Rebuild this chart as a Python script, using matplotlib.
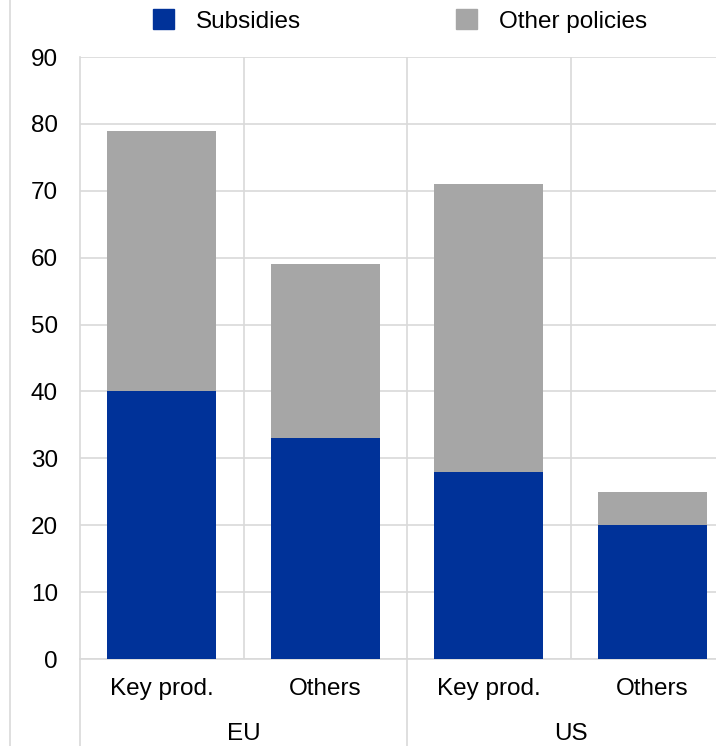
import matplotlib
matplotlib.use("Agg")
import matplotlib.pyplot as plt
from matplotlib.lines import Line2D
from matplotlib.patches import Patch
import numpy as np

plt.rcParams["font.family"] = ["Liberation Sans", "DejaVu Sans"]

categorias = ["Key prod.", "Others", "Key prod.", "Others"]
grupos = ["EU", "US"]
subsidios = [40, 33, 28, 20]
outras = [39, 26, 43, 5]

azul = "#003299"
cinza = "#a6a6a6"
grade = "#d9d9d9"
fs = 17.5

W, H = 716, 746
fig = plt.figure(figsize=(W / 100, H / 100), dpi=100)
# o eixo passa um pouco da borda direita, como no original
ax = fig.add_axes([80 / W, 1 - 659 / H, (734 - 80) / W, (659 - 57) / H])

x = np.arange(len(categorias))
ax.bar(x, subsidios, width=0.667, color=azul, zorder=3)
ax.bar(x, outras, width=0.667, bottom=subsidios, color=cinza, zorder=3)

ax.set_xlim(-0.5, len(categorias) - 0.5)
ax.set_ylim(0, 90)
ax.set_yticks(range(0, 91, 10))
ax.tick_params(axis="y", length=0, labelsize=fs, pad=16, colors="#000000")
ax.tick_params(axis="x", length=0, labelsize=fs, pad=14)
ax.set_xticks(x)
ax.set_xticklabels(categorias)

ax.yaxis.grid(True, color=grade, linewidth=1.2, zorder=0)
for xv in [0.5, 1.5, 2.5]:
    ax.axvline(xv, color=grade, linewidth=1.2, zorder=0)
for s in ["top", "right"]:
    ax.spines[s].set_visible(False)
for s in ["left", "bottom"]:
    ax.spines[s].set_color(grade)
    ax.spines[s].set_linewidth(1.2)

# separadores dos grupos e rotulos EU / US
for xv in [-0.5, 1.5]:
    ax.plot([xv, xv], [0, -0.2], transform=ax.get_xaxis_transform(),
            color=grade, linewidth=1.2, clip_on=False)
for i, g in enumerate(grupos):
    ax.text(2 * i + 0.5, -0.125, g, transform=ax.get_xaxis_transform(),
            ha="center", va="center", fontsize=fs)

# linha fina na borda esquerda da figura
fig.add_artist(Line2D([10 / W, 10 / W], [0, 1], color=grade, linewidth=1.2))

handles = [Patch(color=azul, label="Subsidies"), Patch(color=cinza, label="Other policies")]
fig.legend(handles=handles, loc="center", bbox_to_anchor=(400 / W, 1 - 21 / H),
           ncol=2, frameon=False, fontsize=fs, handlelength=0.85, handleheight=0.85,
           handletextpad=0.9, columnspacing=6.4)

fig.savefig("out.png", dpi=100)
